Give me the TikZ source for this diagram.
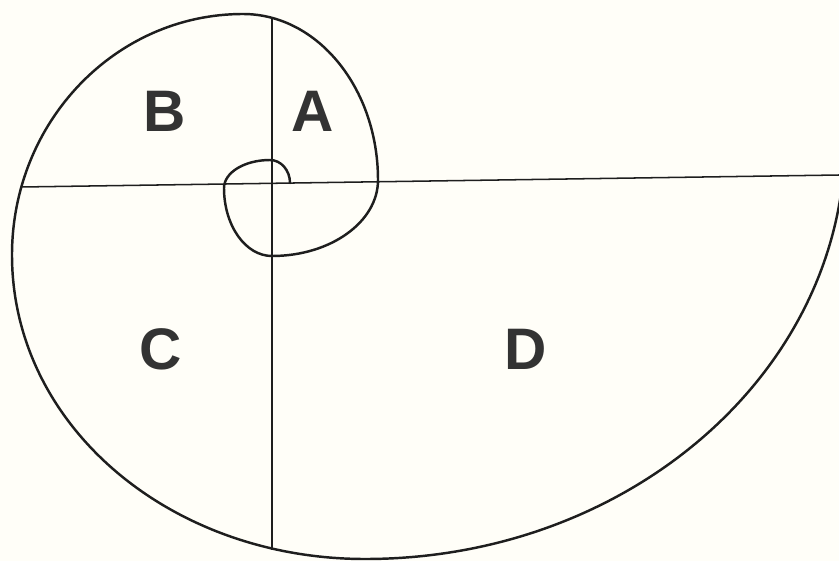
\documentclass[tikz,border=0pt]{standalone}
\usepackage{fontspec}
\setmainfont{Liberation Sans}
\definecolor{spInk}{HTML}{1E1E1E}
\definecolor{spText}{HTML}{333333}
\definecolor{spPaper}{HTML}{FFFEF8}
\tikzset{
  sp curve/.style={draw=spInk, line width=2.1pt, line cap=round, line join=round},
  sp axis/.style={draw=spInk, line width=1.3pt},
  sp label/.style={font=\fontsize{50}{50}\selectfont\bfseries, text=spText, inner sep=0pt},
}
\begin{document}
\begin{tikzpicture}[x=0.03cm, y=-0.03cm]
  \fill[spPaper] (0,0) rectangle (839,561);
  \useasboundingbox (0,0) rectangle (839,561);

  % axes
  \coordinate (west) at (21,187);
  \coordinate (east) at (839,175);
  \coordinate (north) at (272,18);
  \coordinate (south) at (272,550);
  \draw[sp axis] (west) -- (east);
  \draw[sp axis] (north) -- (south);

  % the spiral, one quarter at a time from the centre outwards
  \draw[sp curve] (290,183)
    .. controls (290,170.3) and (281,160) .. (270,160)
    .. controls (244.6,160) and (224,172.5) .. (224,188)
    .. controls (224,225.6) and (245.5,256) .. (272,256)
    .. controls (330.5,256) and (378,222) .. (378,180)
    .. controls (378,88.3) and (317.6,14) .. (243,14)
    .. controls (115.4,14) and (12,121.9) .. (12,255)
    .. controls (12,425.7) and (170,559) .. (365,559)
    .. controls (630,559) and (845,371) .. (845,139);

  % quarter labels
  \node[sp label] (lblA) at (313,111) {A};
  \node[sp label] (lblB) at (165,111) {B};
  \node[sp label] (lblC) at (161,349) {C};
  \node[sp label] (lblD) at (526,349) {D};
\end{tikzpicture}
\end{document}
